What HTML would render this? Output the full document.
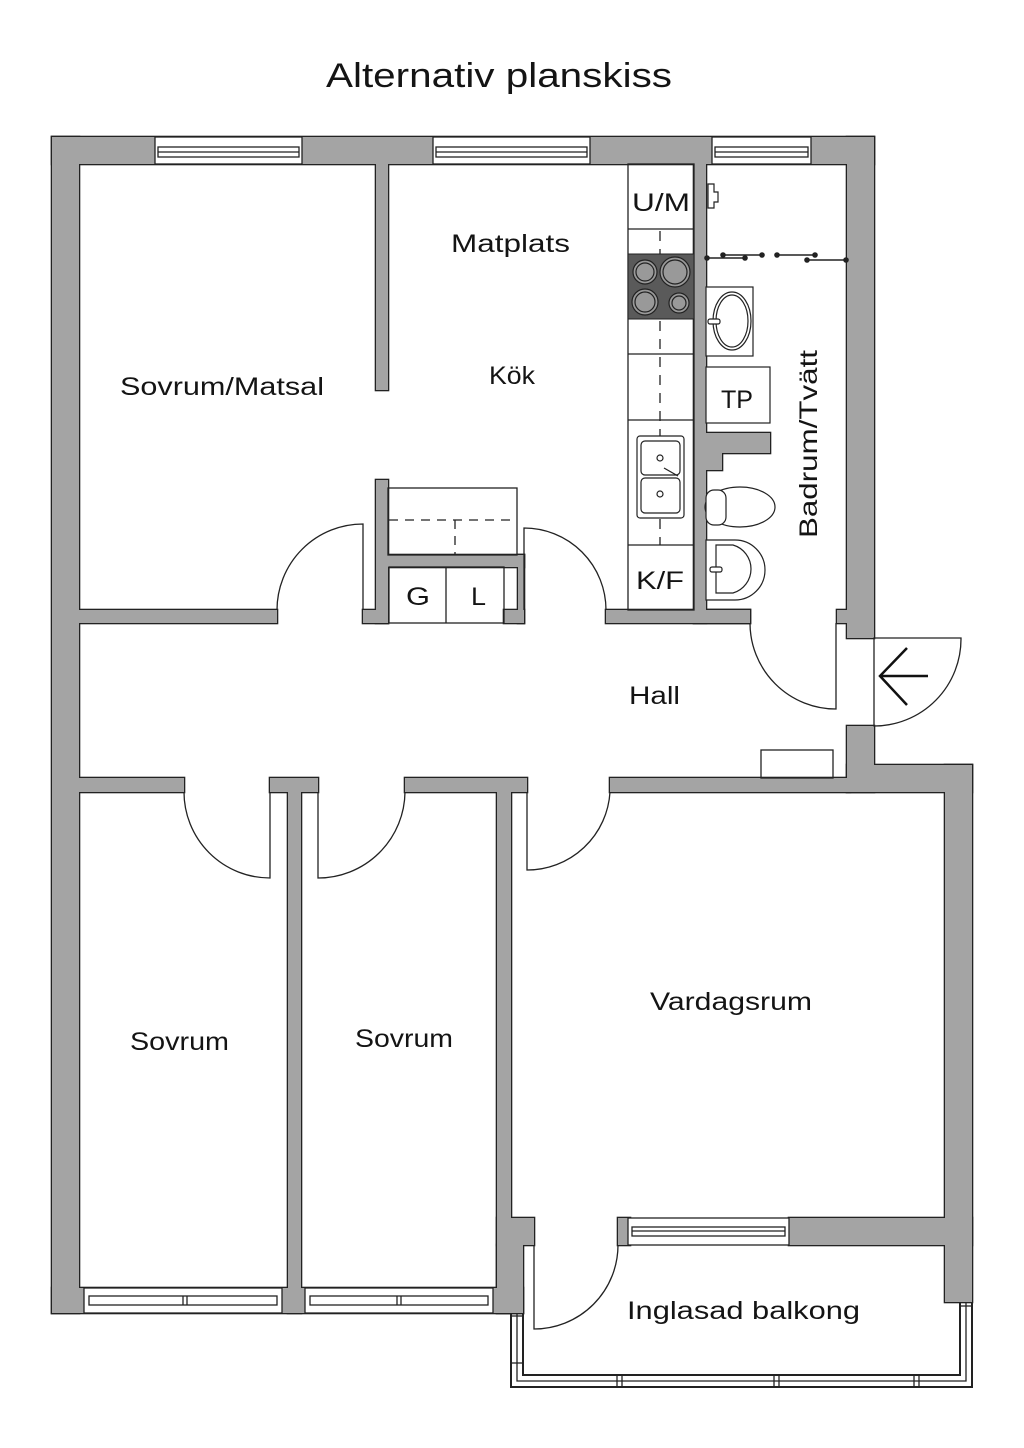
<!DOCTYPE html>
<html><head><meta charset="utf-8"><style>
html,body{margin:0;padding:0;background:#fff}
svg{display:block}
text{font-family:"Liberation Sans",sans-serif;fill:#141414}
</style></head><body>
<svg width="1024" height="1448" viewBox="0 0 1024 1448" xmlns="http://www.w3.org/2000/svg">
<defs>
<g id="w">
<rect x="52" y="137" width="822" height="27"/>
<rect x="52" y="137" width="27" height="1176"/>
<rect x="52" y="1288" width="471" height="25"/>
<rect x="847" y="137" width="27" height="501"/>
<rect x="847" y="726" width="27" height="66"/>
<rect x="847" y="765" width="125" height="27"/>
<rect x="945" y="765" width="27" height="537"/>
<rect x="79" y="778" width="105" height="14"/>
<rect x="270" y="778" width="48" height="14"/>
<rect x="405" y="778" width="122" height="14"/>
<rect x="610" y="778" width="240" height="14"/>
<rect x="376" y="164" width="12" height="226"/>
<rect x="79" y="610" width="198" height="13"/>
<rect x="606" y="610" width="144" height="13"/>
<rect x="837" y="610" width="12" height="13"/>
<rect x="363" y="610" width="25" height="13"/>
<rect x="376" y="480" width="12" height="143"/>
<rect x="388" y="555" width="136" height="12"/>
<rect x="518" y="555" width="6" height="68"/>
<rect x="504" y="610" width="20" height="13"/>
<rect x="694" y="164" width="12" height="459"/>
<rect x="694" y="610" width="56" height="13"/>
<rect x="706" y="433" width="64" height="20"/>
<rect x="706" y="453" width="16" height="17"/>
<rect x="288" y="792" width="13" height="521"/>
<rect x="497" y="792" width="14" height="521"/>
<rect x="497" y="1218" width="37" height="27"/>
<rect x="497" y="1245" width="26" height="68"/>
<rect x="618" y="1218" width="12" height="27"/>
<rect x="789" y="1218" width="183" height="27"/>
</g>
</defs>
<use href="#w" fill="#a4a4a4" stroke="#222" stroke-width="2.6"/>
<use href="#w" fill="#a4a4a4" stroke="none"/>

<g fill="#fff" stroke="#222" stroke-width="1.3">
<rect x="155" y="137" width="147" height="27"/><rect x="158" y="147" width="141" height="10"/><line x1="158" y1="152" x2="299" y2="152"/>
<rect x="433" y="137" width="157" height="27"/><rect x="436" y="147" width="151" height="10"/><line x1="436" y1="152" x2="587" y2="152"/>
<rect x="712" y="137" width="99" height="27"/><rect x="715" y="147" width="93" height="10"/><line x1="715" y1="152" x2="808" y2="152"/>
<rect x="84" y="1288" width="198" height="25"/><rect x="89" y="1296" width="188" height="9"/><line x1="183" y1="1296" x2="183" y2="1305"/><line x1="187" y1="1296" x2="187" y2="1305"/>
<rect x="305" y="1288" width="188" height="25"/><rect x="310" y="1296" width="178" height="9"/><line x1="397" y1="1296" x2="397" y2="1305"/><line x1="401" y1="1296" x2="401" y2="1305"/>
<rect x="628" y="1218" width="161" height="27"/><rect x="632" y="1227" width="153" height="9"/><line x1="632" y1="1231" x2="785" y2="1231"/>
</g>

<g fill="none" stroke="#222" stroke-width="1.3">
<path d="M511 1313 V1387 H972 V1302" stroke-width="2"/>
<path d="M523 1313 V1375 H960 V1302" stroke-width="2"/>
<path d="M517 1313 V1381 H966 V1302"/>
<line x1="511" y1="1316" x2="523" y2="1316"/><line x1="511" y1="1363" x2="523" y2="1363"/>
<line x1="617" y1="1375" x2="617" y2="1387"/><line x1="622" y1="1375" x2="622" y2="1387"/>
<line x1="774" y1="1375" x2="774" y2="1387"/><line x1="779" y1="1375" x2="779" y2="1387"/>
<line x1="914" y1="1375" x2="914" y2="1387"/><line x1="919" y1="1375" x2="919" y2="1387"/>
<line x1="960" y1="1306" x2="972" y2="1306"/>
<path d="M277 610 A86 86 0 0 1 363 524 V610"/>
<path d="M524 610 V528 A82 82 0 0 1 606 610"/>
<path d="M750 623 A86 86 0 0 0 836 709 V623"/>
<path d="M874 638 H961 A87 87 0 0 1 874 726 Z"/>
<path d="M184 792 A86 86 0 0 0 270 878 V792"/>
<path d="M318 792 V878 A87 87 0 0 0 405 792"/>
<path d="M527 792 V870 A83 83 0 0 0 610 792"/>
<path d="M534 1245 V1329 A84 84 0 0 0 618 1245"/>
<rect x="388" y="488" width="129" height="67"/>
<path d="M389 520 H510 M455 520 V555" stroke-dasharray="9 7"/>
<rect x="389" y="567" width="115" height="56"/>
<line x1="446" y1="567" x2="446" y2="623"/>
<rect x="761" y="750" width="72" height="28"/>
<rect x="628" y="164" width="66" height="446"/>
<line x1="628" y1="229" x2="694" y2="229"/><line x1="628" y1="354" x2="694" y2="354"/>
<line x1="628" y1="420" x2="694" y2="420"/><line x1="628" y1="545" x2="694" y2="545"/>
<line x1="660" y1="231" x2="660" y2="545" stroke-dasharray="10 8"/>
</g>
<rect x="628" y="254" width="66" height="65" fill="#5a5a5a" stroke="#222"/>
<g fill="#999" stroke="#222" stroke-width="1.2">
<circle cx="645" cy="272" r="12"/><circle cx="645" cy="272" r="9"/>
<circle cx="675" cy="272" r="15"/><circle cx="675" cy="272" r="12"/>
<circle cx="645" cy="302" r="13"/><circle cx="645" cy="302" r="10"/>
<circle cx="679" cy="303" r="10"/><circle cx="679" cy="303" r="7"/>
</g>
<g fill="#fff" stroke="#222" stroke-width="1.2">
<rect x="637" y="436" width="47" height="82" rx="3"/>
<rect x="641" y="441" width="39" height="34" rx="4"/>
<rect x="641" y="478" width="39" height="35" rx="4"/>
<circle cx="660" cy="458" r="3"/><circle cx="660" cy="494" r="3"/>
<line x1="664" y1="468" x2="678" y2="476"/>
<rect x="706" y="287" width="47" height="69"/>
<ellipse cx="732" cy="321" rx="19" ry="29"/><ellipse cx="732" cy="321" rx="16" ry="26"/>
<rect x="708" y="319" width="12" height="5" rx="2"/>
<rect x="706" y="367" width="64" height="56"/>
<ellipse cx="740" cy="507" rx="35" ry="20"/>
<rect x="706" y="490" width="20" height="35" rx="8"/>
<path d="M706 540 H735 A30 30 0 0 1 735 600 H706 Z"/>
<path d="M716 545 H733 A25 25 0 0 1 733 593 H716 Z"/>
<rect x="710" y="567" width="12" height="5" rx="2"/>
<path d="M708 184 h6 v8 h4 v10 h-4 v6 h-6 Z"/>
</g>
<g stroke="#222" stroke-width="1.6" fill="#222">
<line x1="706" y1="258" x2="745" y2="258"/><line x1="723" y1="255" x2="762" y2="255"/>
<line x1="777" y1="255" x2="815" y2="255"/><line x1="807" y1="260" x2="847" y2="260"/>
<circle cx="707" cy="258" r="2"/><circle cx="723" cy="255" r="2"/><circle cx="745" cy="258" r="2"/><circle cx="762" cy="255" r="2"/>
<circle cx="777" cy="255" r="2"/><circle cx="815" cy="255" r="2"/><circle cx="807" cy="260" r="2"/><circle cx="846" cy="260" r="2"/>
</g>
<path d="M928 676 H880 M907 648 L880 676 L907 705" fill="none" stroke="#111" stroke-width="2.5"/>

<text x="326" y="87" font-size="34" textLength="346" lengthAdjust="spacingAndGlyphs">Alternativ planskiss</text>
<g font-size="25" lengthAdjust="spacingAndGlyphs">
<text x="632" y="211" textLength="58" lengthAdjust="spacingAndGlyphs">U/M</text>
<text x="451" y="252" textLength="119" lengthAdjust="spacingAndGlyphs">Matplats</text>
<text x="489" y="384" textLength="46" lengthAdjust="spacingAndGlyphs">Kök</text>
<text x="120" y="395" textLength="204" lengthAdjust="spacingAndGlyphs">Sovrum/Matsal</text>
<text x="721" y="408" textLength="32" lengthAdjust="spacingAndGlyphs">TP</text>
<text x="406" y="605" textLength="24" lengthAdjust="spacingAndGlyphs">G</text>
<text x="471" y="605" textLength="15" lengthAdjust="spacingAndGlyphs">L</text>
<text x="636" y="589" textLength="48" lengthAdjust="spacingAndGlyphs">K/F</text>
<text x="629" y="704" textLength="51" lengthAdjust="spacingAndGlyphs">Hall</text>
<text x="650" y="1010" textLength="162" lengthAdjust="spacingAndGlyphs">Vardagsrum</text>
<text x="130" y="1050" textLength="99" lengthAdjust="spacingAndGlyphs">Sovrum</text>
<text x="355" y="1047" textLength="98" lengthAdjust="spacingAndGlyphs">Sovrum</text>
<text x="627" y="1319" textLength="233" lengthAdjust="spacingAndGlyphs">Inglasad balkong</text>
<text transform="translate(817,538) rotate(-90)" textLength="188" lengthAdjust="spacingAndGlyphs">Badrum/Tvätt</text>
</g>
</svg>
</body></html>
